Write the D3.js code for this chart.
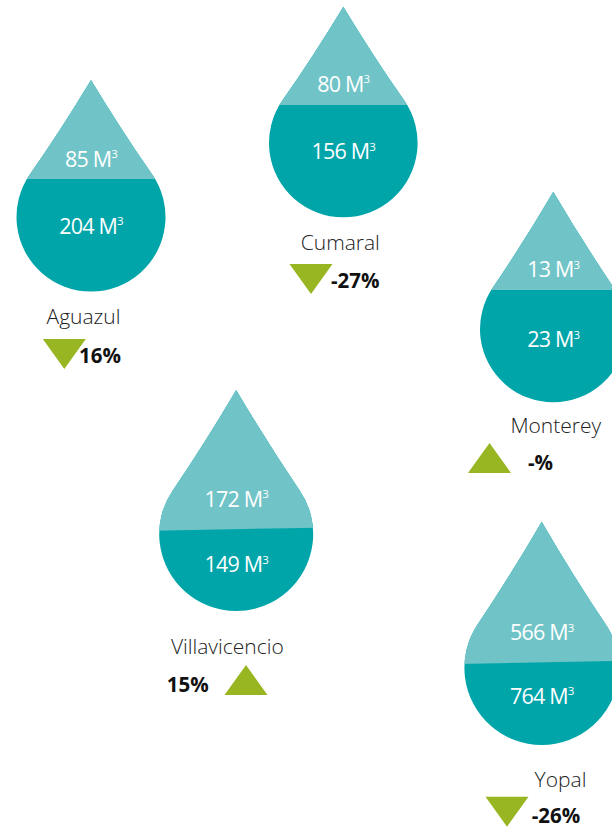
<html>
<head>
  <meta charset="UTF-8" />
  <title>drops with D3.js</title>
  <script src="https://d3js.org/d3.v7.min.js"></script>
  <style>
    body { margin: 0; background: #ffffff; }
    .val { fill: #ffffff; font-family: "Open Sans", sans-serif; font-weight: 400; font-size: 21.5px; letter-spacing: -0.8px; }
    .city { fill: #222222; font-family: "Open Sans", sans-serif; font-weight: 300; font-size: 21px; }
    .pct { fill: #111111; font-family: "Open Sans", sans-serif; font-weight: 700; font-size: 20.5px; }
  </style>
</head>
<body>
<div id="chart"></div>
<script>
  // data
  var cities = ["Aguazul", "Cumaral", "Monterey", "Villavicencio", "Yopal"];
  var topValues = [85, 80, 13, 172, 566];
  var bottomValues = [204, 156, 23, 149, 764];
  var changeLabels = ["16%", "-27%", "-%", "15%", "-26%"];
  var changeDir = ["down", "down", "up", "up", "down"];

  // layout (positions only)
  var layout = [
    {cx: 91, cy: 217, r: 74.5, h: 137, sl: -38, sr: -38, ty: -50.5, by: 16.5,
     nx: 83.5, ny: 324, tx: 64.3, ty0: 339, px: 79, py: 363},
    {cx: 343.3, cy: 143, r: 74.3, h: 136.3, sl: -38, sr: -38, ty: -51.3, by: 16.3,
     nx: 340.3, ny: 250, tx: 311, ty0: 264, px: 331, py: 288.3},
    {cx: 553.3, cy: 329, r: 73.3, h: 137.3, sl: -39, sr: -39, ty: -51.7, by: 18.3,
     nx: 555.8, ny: 433, tx: 489.5, ty0: 443, px: 528, py: 470},
    {cx: 236.2, cy: 534, r: 77, h: 144, sl: -3.3, sr: -6.3, ty: -27.3, by: 38.3,
     nx: 227.3, ny: 654, tx: 246, ty0: 665, px: 166.7, py: 691.7},
    {cx: 541.7, cy: 667.7, r: 77.3, h: 146, sl: -3.7, sr: -7, ty: -27.7, by: 36.3,
     nx: 560.5, ny: 786.7, tx: 507, ty0: 796.7, px: 531.7, py: 823}
  ];

  var W = 612, H = 829;
  var lightTeal = "#70c4c7", darkTeal = "#00a5aa", green = "#97b622";
  var triW = 43, triH = 30;

  var svg = d3.select("#chart").append("svg")
          .attr("width", W)
          .attr("height", H);
  var defs = svg.append("defs");

  // teardrop path centred on the circle centre
  function dropPath(r, h) {
    var k = 0.95;                       // tangent meets the axis at k*h
    var cosA = Math.min(0.99, r / (k * h));
    var sinA = Math.sqrt(1 - cosA * cosA);
    var px = r * sinA, py = -r * cosA;
    var ax = 0, ay = -k * h;
    var qx = px + (ax - px) * 0.5, qy = py + (ay - py) * 0.5;
    var p = d3.path();
    p.moveTo(0, -h);
    p.quadraticCurveTo(qx, qy, px, py);
    p.arc(0, 0, r, Math.atan2(py, px), Math.atan2(py, -px) + 2 * Math.PI, false);
    p.quadraticCurveTo(-qx, qy, 0, -h);
    p.closePath();
    return p.toString();
  }

  var data = cities.map(function(c, i) {
    return {city: c, top: topValues[i], bottom: bottomValues[i],
            change: changeLabels[i], dir: changeDir[i], pos: layout[i], i: i};
  });

  var g = svg.selectAll(".drop")
          .data(data)
          .enter().append("g")
          .attr("class", "drop");

  g.each(function(d) {
    var L = d.pos;
    var sel = d3.select(this);
    var path = dropPath(L.r, L.h);

    defs.append("clipPath").attr("id", "clipTop" + d.i)
            .append("polygon")
            .attr("points", [[-L.r - 5, -L.h - 5], [L.r + 5, -L.h - 5], [L.r + 5, L.sr], [-L.r - 5, L.sl]]
                    .map(function(p) { return p.join(","); }).join(" "));

    var dg = sel.append("g").attr("transform", "translate(" + L.cx + "," + L.cy + ")");
    dg.append("path").attr("d", path).attr("fill", darkTeal);
    dg.append("path").attr("d", path).attr("fill", lightTeal)
            .attr("clip-path", "url(#clipTop" + d.i + ")");

    function valueText(v, y) {
      var t = dg.append("text").attr("class", "val")
              .attr("x", 0).attr("y", y)
              .attr("text-anchor", "middle");
      t.append("tspan").text(v + " M");
      t.append("tspan").text("3").attr("font-size", 11.5).attr("dy", -8.5);
    }
    valueText(d.top, L.ty);
    valueText(d.bottom, L.by);

    sel.append("text").attr("class", "city")
            .attr("x", L.nx).attr("y", L.ny)
            .attr("text-anchor", "middle")
            .text(d.city);

    var tri = d.dir === "down"
            ? [[L.tx - triW / 2, L.ty0], [L.tx + triW / 2, L.ty0], [L.tx, L.ty0 + triH]]
            : [[L.tx - triW / 2, L.ty0 + triH], [L.tx + triW / 2, L.ty0 + triH], [L.tx, L.ty0]];
    sel.append("path")
            .attr("d", d3.line()(tri) + "Z")
            .attr("fill", green);

    sel.append("text").attr("class", "pct")
            .attr("x", L.px).attr("y", L.py)
            .text(d.change);
  });
</script>
</body>
</html>
